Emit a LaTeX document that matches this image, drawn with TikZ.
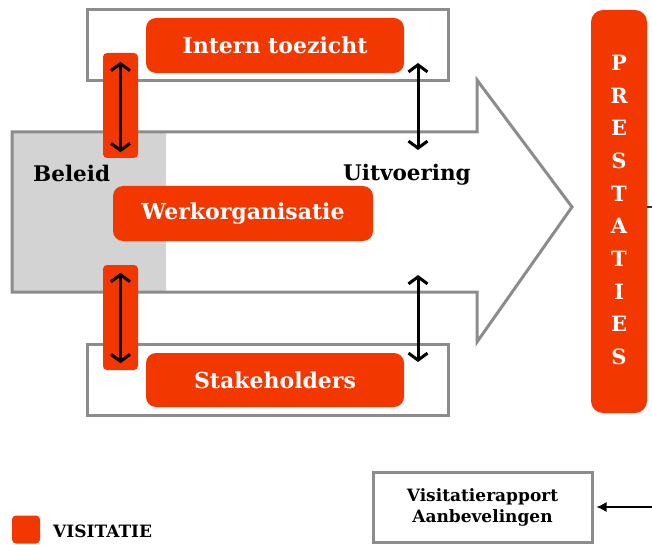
\documentclass[tikz,border=0pt]{standalone}
\usepackage{fontspec}
\setmainfont{DejaVu Serif}
\usepackage{tikz}
\usetikzlibrary{arrows.meta}
\usepackage{xcolor}
\definecolor{visred}{RGB}{242,56,0}
\definecolor{kadergrijs}{RGB}{140,140,140}
\definecolor{vlakgrijs}{RGB}{211,211,211}
\tikzset{
  kader/.style={draw=kadergrijs, line width=3pt},
  rood/.style={fill=visred, rounded corners=10pt, inner sep=0pt, text=white, font=\bfseries\fontsize{22}{26}\selectfont},
  staaf/.style={fill=visred, rounded corners=4pt, inner sep=0pt, minimum width=35pt, minimum height=105pt},
  heenweer/.style={{Straight Barb[length=7pt,width=19pt,line width=3pt]}-{Straight Barb[length=7pt,width=19pt,line width=3pt]}, line width=3pt},
  tekst/.style={inner sep=0pt, font=\bfseries\fontsize{21.5}{25}\selectfont}
}

\begin{document}
\begin{tikzpicture}[x=1pt,y=-1pt]
\useasboundingbox (0,0) rectangle (652,545);
\draw [kader] (87,10) rectangle (448,81);
\draw [kader] (87,344) rectangle (448,415);
\fill [vlakgrijs] (12,132) rectangle (166,292);
\draw [kader, line join=miter] (12,132) -- (477,132) -- (477,80) -- (572,207) -- (477,342) -- (477,292) -- (12,292) -- cycle;
\node (intern) [rood, minimum width=258pt, minimum height=55pt] at (275,45.5) {Intern toezicht};
\node (werk) [rood, minimum width=260pt, minimum height=55pt] at (243,213.5) {Werkorganisatie};
\node (stake) [rood, minimum width=258pt, minimum height=54pt] at (275,380) {Stakeholders};
\node (staaf1) [staaf] at (120.5,105.5) {};
\node (staaf2) [staaf] at (120.5,317.5) {};
\draw [heenweer] ([yshift=-9pt]staaf1.north) -- ([yshift=6pt]staaf1.south);
\draw [heenweer] ([yshift=-8pt]staaf2.north) -- ([yshift=7pt]staaf2.south);
\coordinate (b1) at (418,63);
\coordinate (o1) at (418,150);
\coordinate (b2) at (418,275);
\coordinate (o2) at (418,362);
\draw [heenweer] (b1) -- (o1);
\draw [heenweer] (b2) -- (o2);
\node (beleid) [tekst, anchor=base west] at (33,182) {Beleid};
\node (uitv) [tekst, anchor=base west] at (343,181) {Uitvoering};
\node (prest) [rood, rounded corners=12pt, minimum width=56pt, minimum height=403pt] at (619,211.5) {};
\node (letters) [align=center, text=white, font=\bfseries\fontsize{21}{32.7}\selectfont] at (619,210) {P\\R\\E\\S\\T\\A\\T\\I\\E\\S};
\coordinate (rechts) at (652,207);
\draw [line width=1.2pt, black!80] (prest.east |- rechts) -- (rechts);
\node (rapport) [kader, minimum width=219pt, minimum height=70pt, align=center, font=\bfseries\fontsize{17}{21}\selectfont] at (482.5,507) {Visitatierapport\\Aanbevelingen};
\coordinate (inkomend) at (652,507);
\draw [-{Latex[length=10pt,width=10pt]}, line width=1.3pt, shorten >=3pt] (inkomend) -- (rapport.east);
\node (legenda) [fill=visred, rounded corners=4pt, inner sep=0pt, minimum size=28pt] at (26,529.5) {};
\node (visitatie) [anchor=base west, inner sep=0pt, font=\bfseries\fontsize{17}{20}\selectfont] at (53,537) {VISITATIE};
\end{tikzpicture}
\end{document}
